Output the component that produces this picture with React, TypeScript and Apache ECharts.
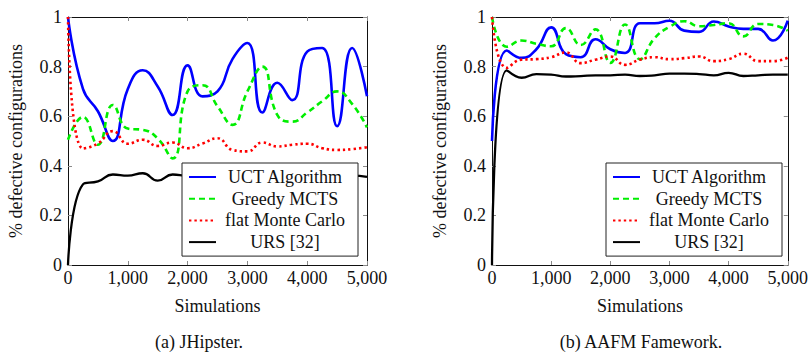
import React, { useEffect, useRef } from 'react';
import * as echarts from 'echarts';

const simulations = [0, 250, 500, 750, 1000, 1250, 1500, 1750, 2000, 2250, 2500, 2750, 3000, 3250, 3500, 3750, 4000, 4250, 4500, 4750, 5000];

const seriesNames = ['UCT Algorithm', 'Greedy MCTS', 'flat Monte Carlo', 'URS [32]'];

// (a) JHipster
const jhUct = [1.0, 0.71, 0.62, 0.5, 0.71, 0.785, 0.72, 0.605, 0.805, 0.68, 0.7, 0.83, 0.895, 0.615, 0.735, 0.665, 0.86, 0.875, 0.56, 0.875, 0.68];
const jhGreedy = [0.505, 0.597, 0.485, 0.645, 0.55, 0.545, 0.51, 0.43, 0.7, 0.725, 0.64, 0.565, 0.7, 0.8, 0.605, 0.578, 0.615, 0.66, 0.7, 0.65, 0.555];
const jhFlat = [1.0, 0.47, 0.49, 0.54, 0.489, 0.505, 0.48, 0.494, 0.471, 0.49, 0.511, 0.464, 0.458, 0.494, 0.478, 0.485, 0.489, 0.471, 0.464, 0.467, 0.475];
const jhUrs = [0, 0.325, 0.337, 0.365, 0.36, 0.37, 0.34, 0.365, 0.36, 0.36, 0.362, 0.358, 0.36, 0.365, 0.36, 0.362, 0.36, 0.365, 0.36, 0.36, 0.355];

// (b) AAFM Famework
const aaUct = [0.5, 0.865, 0.835, 0.87, 0.958, 0.85, 0.838, 0.91, 0.87, 0.855, 0.975, 0.975, 0.985, 0.945, 0.94, 0.982, 0.962, 0.952, 0.952, 0.905, 0.985];
const aaGreedy = [1.0, 0.88, 0.905, 0.892, 0.882, 0.955, 0.887, 0.95, 0.815, 0.97, 0.83, 0.915, 0.96, 0.983, 0.963, 0.968, 0.975, 0.922, 0.972, 0.968, 0.945];
const aaFlat = [1.0, 0.795, 0.828, 0.83, 0.838, 0.857, 0.814, 0.828, 0.841, 0.807, 0.828, 0.838, 0.83, 0.834, 0.841, 0.822, 0.83, 0.852, 0.822, 0.822, 0.836];
const aaUrs = [0, 0.785, 0.755, 0.77, 0.768, 0.76, 0.762, 0.765, 0.765, 0.768, 0.762, 0.765, 0.772, 0.772, 0.77, 0.765, 0.775, 0.762, 0.765, 0.768, 0.768];

const xTicks = [0, 1000, 2000, 3000, 4000, 5000];
const yTicks = [0, 0.2, 0.4, 0.6, 0.8, 1];

const captions = ['(a) JHipster.', '(b) AAFM Famework.'];
const xTitle = 'Simulations';
const yTitle = '% defective configurations';

const FONT = "'Liberation Serif', 'Times New Roman', serif";
const TEXT = '#111';
const FS = 18;

const styles = [
  { color: '#0000ff', width: 2.6, type: 'solid' as any },
  { color: '#00ee00', width: 2.6, type: [6, 4] as any },
  { color: '#ff0000', width: 2.6, type: [2.4, 3] as any },
  { color: '#000000', width: 2.3, type: 'solid' as any },
];

const fmtX = (v: number) => String(v).replace(/\B(?=(\d{3})+(?!\d))/g, ',');

export default function App() {
  const ref = useRef<HTMLDivElement>(null);
  useEffect(() => {
    document.body.style.margin = '0';
    const chart = echarts.init(ref.current!, null, { renderer: 'svg' });
    const grids = [
      { left: 68, top: 17, width: 299, height: 248 },
      { left: 492, top: 17, width: 299, height: 248 },
    ];
    const tick = { show: true, inside: true, length: 4, lineStyle: { color: '#8a8a8a', width: 1 } };
    const line = { show: true, onZero: false, lineStyle: { color: '#111', width: 1 } };
    const lab = { fontFamily: FONT, fontSize: FS, color: TEXT };
    const xAxes: any[] = [];
    const yAxes: any[] = [];
    grids.forEach((_, g) => {
      xAxes.push({
        type: 'value', gridIndex: g, position: 'bottom', min: xTicks[0], max: xTicks[xTicks.length - 1], interval: 1000,
        axisLine: line, axisTick: tick, splitLine: { show: false },
        axisLabel: { ...lab, margin: 4, formatter: fmtX },
        name: xTitle, nameLocation: 'middle', nameGap: 32,
        nameTextStyle: lab,
      });
      xAxes.push({
        type: 'value', gridIndex: g, position: 'top', min: 0, max: 5000, interval: 1000,
        axisLine: line, axisTick: tick, splitLine: { show: false }, axisLabel: { show: false },
      });
      yAxes.push({
        type: 'value', gridIndex: g, position: 'left', min: yTicks[0], max: yTicks[yTicks.length - 1], interval: 0.2,
        axisLine: line, axisTick: tick, splitLine: { show: false },
        axisLabel: { ...lab, margin: 6 },
        name: yTitle, nameLocation: 'middle', nameGap: 43,
        nameTextStyle: lab,
      });
      yAxes.push({
        type: 'value', gridIndex: g, position: 'right', min: 0, max: 1, interval: 0.2,
        axisLine: line, axisTick: tick, splitLine: { show: false }, axisLabel: { show: false },
      });
    });
    const datasets = [
      [jhUct, jhGreedy, jhFlat, jhUrs],
      [aaUct, aaGreedy, aaFlat, aaUrs],
    ];
    const series: any[] = [];
    datasets.forEach((group, g) => {
      group.forEach((vals, i) => {
        series.push({
          type: 'line', name: seriesNames[i], xAxisIndex: g * 2, yAxisIndex: g * 2,
          data: simulations.map((s, k) => [s, vals[k]]),
          smooth: 0.5, symbol: 'none', showSymbol: false,
          lineStyle: { ...styles[i], cap: 'butt' },
          itemStyle: { color: styles[i].color },
          z: 2 + i * 0.1,
        });
      });
    });
    const legendLefts = [182, 606];
    const legends = legendLefts.map((l) => ({
      orient: 'vertical', left: l, top: 163,
      data: seriesNames,
      backgroundColor: '#fff', borderColor: '#222', borderWidth: 1,
      padding: [5, 9, 5, 6], itemGap: 3.7, itemWidth: 27, itemHeight: 14,
      selectedMode: false,
      itemStyle: { opacity: 0 },
      formatter: (n: string) => `{t|${n}}`,
      textStyle: {
        ...lab,
        rich: { t: { ...lab, width: 128, align: 'center', lineHeight: 18 } },
      },
    }));
    chart.setOption({
      animation: false,
      textStyle: { fontFamily: FONT },
      grid: grids,
      xAxis: xAxes,
      yAxis: yAxes,
      legend: legends,
      series,
      graphic: [
        { type: 'text', x: 199, y: 342, style: { text: captions[0], fontFamily: FONT, fontSize: FS, fill: TEXT, textAlign: 'center', textVerticalAlign: 'middle' } },
        { type: 'text', x: 641, y: 342, style: { text: captions[1], fontFamily: FONT, fontSize: FS, fill: TEXT, textAlign: 'center', textVerticalAlign: 'middle' } },
      ],
    });
    return () => chart.dispose();
  }, []);
  return <div ref={ref} style={{ width: 811, height: 352 }} />;
}
